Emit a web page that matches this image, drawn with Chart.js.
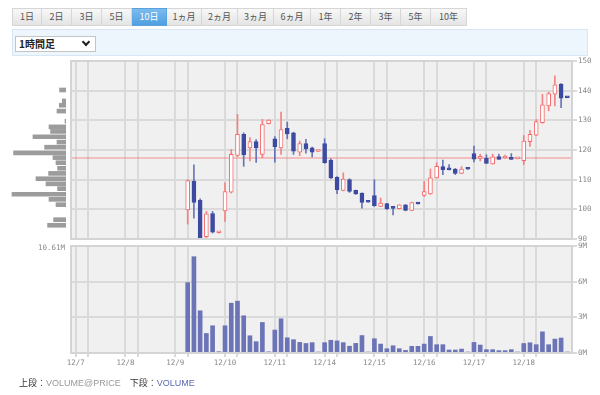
<!DOCTYPE html>
<html>
<head>
<meta charset="utf-8">
<script src="https://cdn.jsdelivr.net/npm/chart.js@4.4.1/dist/chart.umd.min.js"></script>
<style>
    body { margin: 0; width: 600px; height: 395px; background: #fff; position: relative; overflow: hidden;
        font-family: "Noto Sans CJK JP", "Noto Sans", sans-serif; }
    .tabs { position: absolute; left: 12px; top: 8px; height: 18px; display: flex; }
    .tabs div { height: 16px; line-height: 16px; border: 1px solid #d6d6d6; border-left: none; text-align: center;
        font-size: 9px; color: #555; background: linear-gradient(#f8f8f8, #e4e4e4); }
    .tabs div:first-child { border-left: 1px solid #d6d6d6; }
    .tabs div.on { background: linear-gradient(#7dbbee, #4f9fe0); color: #fff; border-color: #5aa2dd; }
    .bar { position: absolute; left: 12px; top: 29px; width: 574px; height: 25px; background: #eef6fd; border: 1px solid #d8e7f5; }
    .sel { position: absolute; left: 15px; top: 36px; width: 76px; height: 14px; background: #fff; border: 1px solid #c4c4c4;
        font-size: 10px; line-height: 14px; color: #222; font-weight: bold; padding-left: 3px; box-sizing: content-box; }
    .sel span { position: absolute; right: 6px; top: 2px; width: 4px; height: 4px; border-right: 2px solid #222; border-bottom: 2px solid #222; transform: rotate(45deg); }
    canvas { position: absolute; }
    #maxLabel { position: absolute; left: 38px; top: 243px; font-family: "DejaVu Sans Mono", monospace; font-size: 7.5px; color: #888; }
    #note { position: absolute; left: 19px; top: 376px; font-size: 9px; color: #333; white-space: nowrap; }
    #note .g { color: #999; font-family: "Liberation Sans", sans-serif; }
    #note .b { color: #5b69b3; font-family: "Liberation Sans", sans-serif; }
</style>
</head>
<body>
<div class="tabs">
    <div style="width:28px">1日</div><div style="width:29px">2日</div><div style="width:29px">3日</div><div style="width:29px">5日</div>
    <div class="on" style="width:34px">10日</div><div style="width:34px">1ヵ月</div><div style="width:35px">2ヵ月</div><div style="width:35px">3ヵ月</div>
    <div style="width:36px">6ヵ月</div><div style="width:29px">1年</div><div style="width:29px">2年</div><div style="width:29px">3年</div>
    <div style="width:29px">5年</div><div style="width:35px">10年</div>
</div>
<div class="bar"></div>
<div class="sel">1時間足<span></span></div>

<canvas id="profileChart" width="71" height="192" style="left:0;top:55px"></canvas>
<canvas id="priceChart" width="600" height="192" style="left:0;top:55px"></canvas>
<canvas id="volumeChart" width="600" height="135" style="left:0;top:240px"></canvas>
<div id="maxLabel">10.61M</div>
<div id="note">上段：<span class="g">VOLUME@PRICE</span>　下段：<span class="b">VOLUME</span></div>

<script>
// 1時間足, 1日8コマ (12/9 上場)
const dayLabels = ['12/7', '12/8', '12/9', '12/10', '12/11', '12/14', '12/15', '12/16', '12/17', '12/18'];
const slotsPerDay = 8;
const firstSlot = 18;

const opens = [
    99.8, 109.5, 103, 90.8, 98.6, 92.1,
    99.5, 105.8, 118.2, 125.3, 120.7, 122.8, 118.5, 128.9,
    123.8, 120.7, 127.3, 125.8, 119.3, 122.2, 120.7, 119.5,
    122.2, 116.6, 110.8, 106.4, 110, 106.4, 105.5, 102.6,
    104.6, 101, 101.9, 100.6, 100.2, 101.5, 99.6, 102.3,
    104.7, 105.2, 110.6, 114.4, 114, 113.6, 112.1, 113.7,
    118.8, 117.2, 117.2, 115.3, 117.8, 117.3, 117.5, 117.0,
    116.4, 122.8, 125, 129.2, 134.9, 138.8, 142.2, 137.8
];
const highs = [
    110, 115, 103.5, 99.3, 99.3, 92.6,
    108.9, 120.2, 132, 125.8, 124.2, 123.5, 130.3, 130.2,
    124.5, 132.8, 129.4, 126, 123, 123.6, 121, 119.7,
    123.8, 117, 111, 112.3, 110.3, 106.5, 105.6, 102.6,
    110, 103.8, 102, 100.6, 101.6, 101.6, 102.4, 102.4,
    109.4, 113.6, 115.7, 116.6, 115.1, 113.8, 114.4, 113.7,
    121.3, 118.6, 118.4, 118.6, 118.6, 118.3, 118.8, 117.2,
    124.9, 126.6, 130.3, 138.8, 139.5, 145, 142.4, 137.8
];
const lows = [
    95, 97, 90, 90.4, 92, 92.0,
    95.9, 105.5, 117.8, 114.5, 116.3, 115.8, 117.4, 128.8,
    115.9, 118.5, 123.8, 118.5, 118.1, 118.9, 117.7, 119.5,
    115.5, 110.3, 105.3, 106.2, 105.7, 105, 100.4, 102.4,
    101, 100.9, 100, 98.1, 100.1, 99.5, 99.5, 101.7,
    104.3, 105, 110.5, 111.7, 113.3, 111.7, 112, 113.5,
    116, 116.3, 115.5, 115.2, 116.8, 117.2, 116.8, 117.0,
    115.1, 121.2, 124.8, 129, 133.2, 134.9, 134.3, 137.6
];
const closes = [
    109.7, 102.3, 90.3, 98.5, 92.3, 92.5,
    106, 118.5, 125.3, 118.3, 122.8, 120.7, 128.6, 130.1,
    121, 126.9, 125.4, 119.6, 122.2, 120.4, 119.3, 119.7,
    115.7, 110.6, 106.6, 110.2, 106, 105.2, 102.3, 102.4,
    101.2, 102.1, 100.1, 100.3, 101.5, 99.6, 102.3, 101.8,
    106, 110.6, 114.5, 113.4, 113.3, 112.1, 113.6, 113.5,
    116.9, 117.6, 115.5, 117.7, 116.8, 117.7, 116.8, 117.2,
    123, 125.3, 129.6, 135.2, 139, 142, 137.5, 137.6
];
// 出来高 (M)
const volumes = [
    5.92, 8.1, 3.55, 1.64, 2.29, 0.11,
    2.29, 4.19, 4.36, 3.13, 1.45, 0.95, 2.57, 0.1,
    1.93, 2.88, 1.28, 1.12, 0.89, 0.8, 0.87, 0.05,
    0.87, 1.07, 1.02, 0.87, 0.57, 0.81, 1.47, 0.05,
    1.2, 0.75, 0.36, 0.61, 0.36, 0.22, 0.56, 0.56,
    0.75, 1.39, 0.7, 0.7, 0.25, 0.25, 0.33, 0.08,
    0.89, 0.67, 0.28, 0.28, 0.2, 0.2, 0.28, 0.08,
    0.8, 0.86, 0.7, 1.78, 0.7, 1.17, 1.26, 0.06
];

// 価格帯別出来高
const profilePrices = [143.6, 139.3, 137.6, 135.3, 131.3, 129.1, 127.3, 125.2, 123.1, 121.1, 118.9, 117.0,
    115.0, 112.8, 110.8, 108.7, 106.7, 104.8, 102.6, 100.6, 98.5, 92.6, 90.4];
const profileVolumes = [1.17, 0.68, 1.23, 1.65, 0.18, 3.11, 2.82, 6.04, 1.65, 3.91, 9.59, 2.38,
    1.83, 1.54, 3.18, 5.49, 3.66, 1.54, 9.88, 3.11, 1.83, 2.27, 3.37];
const profileMax = 10.61;

const refPrice = 117.3;
const priceMin = 90, priceMax = 150, priceStep = 10;
const volumeMax = 9, volumeStep = 3;

const RED = 'rgb(244, 108, 108)';
const RED_WICK = 'rgba(244, 120, 120, 0.9)';
const BLUE = 'rgb(60, 74, 160)';
const BLUE_WICK = 'rgba(80, 95, 175, 0.85)';
const VOL = 'rgb(106, 116, 182)';
const GRID = '#dadada';
const TICK_FONT = { family: 'DejaVu Sans Mono', size: 7.5 };

const xMin = -0.75;
const xMax = dayLabels.length * slotsPerDay - 0.25;
const slots = opens.map((_, i) => firstSlot + i);
const isUp = opens.map((o, i) => closes[i] >= o);

const gridSlots = [];
dayLabels.forEach((d, i) => {
    gridSlots.push(i * slotsPerDay);
    gridSlots.push(i * slotsPerDay + 2);
});

const panel = {
    id: 'panel',
    beforeDraw(chart) {
        const { ctx, chartArea: a } = chart;
        ctx.save();
        ctx.fillStyle = '#f0f0f0';
        ctx.fillRect(a.left, a.top, a.width, a.height);
        ctx.restore();
    },
    afterDraw(chart) {
        const { ctx, chartArea: a } = chart;
        ctx.save();
        ctx.strokeStyle = '#d4d4d4';
        ctx.lineWidth = 2;
        ctx.strokeRect(a.left, a.top, a.width, a.height);
        ctx.restore();
    }
};

function slotAxis(showLabels) {
    return {
        type: 'linear',
        min: xMin,
        max: xMax,
        offset: false,
        afterBuildTicks: (scale) => {
            scale.ticks = gridSlots.map(v => ({ value: v }));
        },
        afterFit: (scale) => {
            scale.height = showLabels ? 22 : 0;
        },
        grid: { color: GRID, lineWidth: 2, offset: false, drawTicks: showLabels, tickLength: 4, tickColor: GRID },
        border: { display: false },
        ticks: {
            display: showLabels,
            autoSkip: false,
            maxRotation: 0,
            padding: 2,
            color: '#888',
            font: TICK_FONT,
            callback: (v) => (v % slotsPerDay === 0 ? dayLabels[v / slotsPerDay] : '')
        }
    };
}

// 価格帯別出来高 (左)
new Chart(document.getElementById('profileChart'), {
    type: 'bar',
    data: {
        datasets: [{
            data: profilePrices.map((p, i) => ({ x: profileVolumes[i], y: p })),
            backgroundColor: '#9c9c9c',
            barThickness: 4
        }]
    },
    options: {
        indexAxis: 'y',
        responsive: false,
        animation: false,
        layout: { padding: { top: 6, bottom: 8, left: 8, right: 5 } },
        scales: {
            x: { type: 'linear', reverse: true, min: 0, max: profileMax, display: false },
            y: { type: 'linear', min: priceMin, max: priceMax, display: false }
        },
        plugins: { legend: { display: false }, tooltip: { enabled: false } }
    }
});

// ローソク足
new Chart(document.getElementById('priceChart'), {
    type: 'bar',
    data: {
        datasets: [
            {
                type: 'line',
                data: [{ x: xMin, y: refPrice }, { x: xMax, y: refPrice }],
                borderColor: 'rgba(244, 110, 110, 0.75)',
                borderWidth: 1,
                pointRadius: 0,
                order: 2
            },
            {
                data: slots.map((x, i) => ({ x: x, y: [lows[i], highs[i]] })),
                backgroundColor: isUp.map(u => (u ? RED_WICK : BLUE_WICK)),
                barThickness: 1,
                grouped: false,
                order: 1
            },
            {
                data: slots.map((x, i) => ({ x: x, y: [opens[i], closes[i]] })),
                backgroundColor: isUp.map(u => (u ? '#fff' : BLUE)),
                borderColor: isUp.map(u => (u ? RED : BLUE)),
                borderWidth: 1,
                borderSkipped: false,
                barThickness: 4,
                minBarLength: 2,
                grouped: false,
                order: 0
            }
        ]
    },
    options: {
        responsive: false,
        animation: false,
        layout: { padding: { top: 6, bottom: 8, left: 71, right: 0 } },
        scales: {
            x: slotAxis(false),
            y: {
                type: 'linear',
                position: 'right',
                min: priceMin,
                max: priceMax,
                afterFit: (scale) => { scale.width = 28; },
                grid: { color: GRID, lineWidth: 2, tickLength: 5, tickColor: GRID },
                border: { display: false },
                ticks: { stepSize: priceStep, padding: 1, color: '#888', font: TICK_FONT }
            }
        },
        plugins: { legend: { display: false }, tooltip: { enabled: false } }
    },
    plugins: [panel]
});

// 出来高
new Chart(document.getElementById('volumeChart'), {
    type: 'bar',
    data: {
        datasets: [{
            data: slots.map((x, i) => ({ x: x, y: volumes[i] })),
            backgroundColor: VOL,
            barThickness: 4
        }]
    },
    options: {
        responsive: false,
        animation: false,
        layout: { padding: { top: 6, bottom: 0, left: 71, right: 0 } },
        scales: {
            x: slotAxis(true),
            y: {
                type: 'linear',
                position: 'right',
                min: 0,
                max: volumeMax,
                afterFit: (scale) => { scale.width = 28; },
                grid: { color: GRID, lineWidth: 2, tickLength: 5, tickColor: GRID },
                border: { display: false },
                ticks: { stepSize: volumeStep, padding: 1, color: '#888', font: TICK_FONT, callback: (v) => v + 'M' }
            }
        },
        plugins: { legend: { display: false }, tooltip: { enabled: false } }
    },
    plugins: [panel]
});
</script>
</body>
</html>
